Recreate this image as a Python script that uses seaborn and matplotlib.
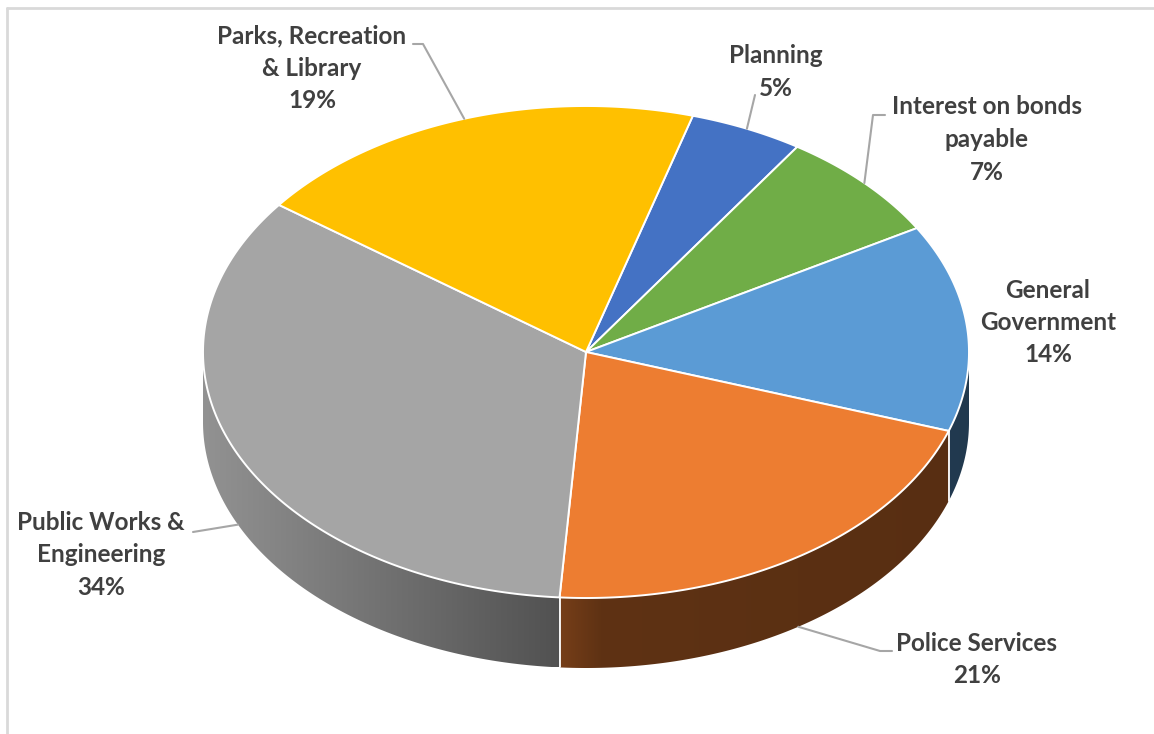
import numpy as np
import matplotlib
matplotlib.use("Agg")
import matplotlib.pyplot as plt
from matplotlib.patches import Polygon
import matplotlib.colors as mcolors
import seaborn as sns

# ---------------- data ----------------
categories = ["Planning", "Interest on bonds\npayable", "General\nGovernment",
              "Police Services", "Public Works &\nEngineering", "Parks, Recreation\n& Library"]
shares = [4.8, 7.3, 13.6, 20.9, 34.1, 19.3]
slice_colors = ["#4472C4", "#70AD47", "#5B9BD5", "#ED7D31", "#A5A5A5", "#FFC000"]

# ---------------- layout / style ----------------
label_pos = [(776, 72), (987, 139.5), (1048, 322.5), (977, 659.5), (101, 555), (312, 68.5)]
leader_pts = [[(755, 95)], [(885, 115), (873, 115)], None,
              [(892, 651), (880, 651)], [(193, 532)], [(413, 44), (423, 44)]]

sns.set_theme(style="white")
plt.rcParams['font.family'] = ['Lato', 'DejaVu Sans']
palette = sns.color_palette(slice_colors)

W, H = 1154, 734
fig = plt.figure(figsize=(W / 100, H / 100), dpi=100)
ax = fig.add_axes([0, 0, 1, 1])
ax.axis('off')

cx, cy, rx, ry, depth = 586, 352, 383, 246, 70
start = 16.2


def rim(theta):
    t = np.radians(theta)
    return cx + rx * np.sin(t), cy - ry * np.cos(t)


def shade(x):
    return np.interp(x, [cx - rx, cx - 23, cx + 14, cx + rx], [0.885, 0.49, 0.40, 0.37])


total = float(sum(shares))
bounds = start + 360.0 * np.concatenate([[0], np.cumsum(shares)]) / total

# ---------------- side walls (horizontal gradient) ----------------
for i, col in enumerate(palette):
    a0, a1 = bounds[i], bounds[i + 1]
    for off in (0, 360):
        lo, hi = max(a0, 90 + off), min(a1, 270 + off)
        if hi <= lo:
            continue
        th = np.linspace(lo, hi, 300)
        xs, ys = rim(th)
        verts = list(zip(xs, ys)) + list(zip(xs[::-1], ys[::-1] + depth))
        clip = Polygon(verts, closed=True, facecolor='none', edgecolor='none')
        ax.add_patch(clip)
        xmin, xmax = xs.min(), xs.max()
        gx = np.linspace(xmin, xmax, 400)
        base = np.array(mcolors.to_rgb(col))
        grad = np.clip(base[None, :] * shade(gx)[:, None], 0, 1)[None, :, :]
        im = ax.imshow(grad, extent=[xmin, xmax, (ys + depth).max(), ys.min()],
                       aspect='auto', interpolation='bilinear', zorder=1)
        im.set_clip_path(clip)

# white seams on the side wall
for b in bounds:
    bb = b % 360
    if 90 < bb < 270:
        x, y = rim(bb)
        ax.plot([x, x], [y, y + depth], color='white', lw=1.3, zorder=2)

# ---------------- top faces ----------------
for i, col in enumerate(palette):
    a0, a1 = bounds[i], bounds[i + 1]
    th = np.linspace(a0, a1, 200)
    xs, ys = rim(th)
    pts = [(cx, cy)] + list(zip(xs, ys))
    ax.add_patch(Polygon(pts, closed=True, facecolor=col, edgecolor='white',
                         lw=1.4, joinstyle='round', zorder=3))

# ---------------- labels & leader lines ----------------
for i, name in enumerate(categories):
    lx, ly = label_pos[i]
    ax.text(lx, ly, f"{name}\n{shares[i]:.0f}%", ha='center', va='center',
            fontsize=17.5, fontweight='bold', color='#404040', linespacing=1.5, zorder=5)
    if leader_pts[i] is None:
        continue
    mid = 0.5 * (bounds[i] + bounds[i + 1])
    ex, ey = rim(mid)
    if 90 < mid % 360 < 270:
        ey = ey + depth
    path = leader_pts[i] + [(ex, ey)]
    ax.plot([p[0] for p in path], [p[1] for p in path], color='#a6a6a6', lw=1.5, zorder=4)

# ---------------- chart frame ----------------
ax.plot([7, 7], [H, 8], color='#d9d9d9', lw=2, zorder=0)
ax.plot([7, W], [8, 8], color='#d9d9d9', lw=2, zorder=0)

ax.set_xlim(0, W)
ax.set_ylim(H, 0)
fig.savefig("out.png", dpi=100, facecolor='white')
